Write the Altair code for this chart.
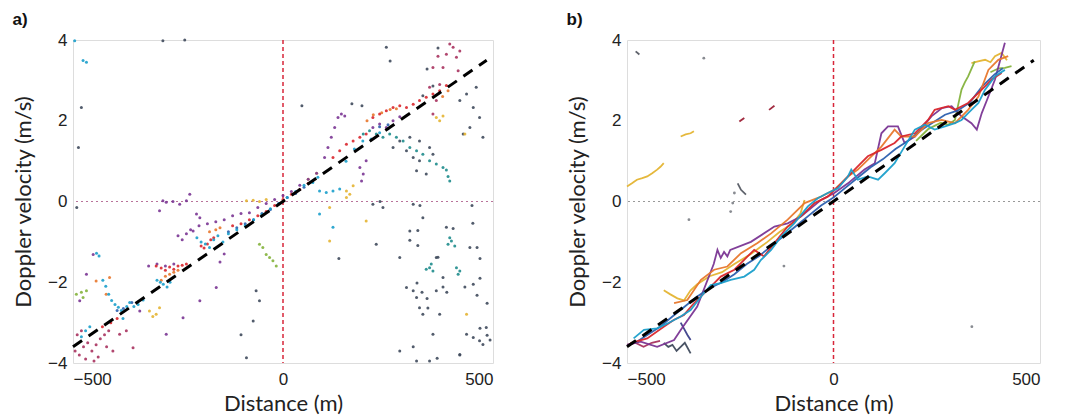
import altair as alt
import pandas as pd

# ---------------- Panel a: scattered Doppler points (distance m, velocity m/s) ----------------
A_DARK = [(-480, 2.33), (-487, 1.34), (-491, -0.15), (-286, 3.98), (-234, 4.0), (246, 3.82), (255, 3.48),
          (164, 2.42), (188, 2.37), (45, 2.37), (369, 3.8), (343, 3.28), (357, 2.86), (333, 2.62),
          (437, 2.66), (453, 2.33), (468, 2.08), (445, 1.83), (476, 1.59), (429, 1.67), (460, 2.83), (421, 2.5),
          (278, 1.5), (294, 1.26), (310, 1.09), (325, 1.01), (262, 1.34), (318, 0.76), (341, 0.68), (357, 1.17),
          (302, 1.59), (349, 1.34), (325, 1.5),
          (389, -0.64), (445, -1.14), (302, -0.73), (333, -0.4), (365, -1.39), (381, -1.88), (294, -2.13),
          (310, -2.21), (318, -2.38), (325, -2.63), (333, -2.79), (365, -2.21), (373, -2.79), (357, -3.29),
          (349, -3.95), (437, -3.29), (453, -3.37), (468, -3.45), (484, -3.12), (476, -3.54), (421, -3.79),
          (278, -1.39), (222, -1.06), (238, -0.15), (310, -0.07), (214, -0.07), (453, -2.05), (278, -3.7),
          (318, -3.95), (321, -0.72), (302, -0.96), (321, -1.09), (405, -0.67), (452, -0.54), (462, -1.14),
          (469, -1.41), (369, -1.38), (319, -2.02), (331, -2.25), (343, -2.4), (345, -2.64), (390, -2.25),
          (381, -2.12), (433, -2.12), (462, -2.32), (469, -1.9), (486, -2.52), (469, -3.14), (486, -3.31),
          (493, -3.43), (367, -3.88), (310, -3.6), (421, -3.8), (450, -0.1), (326, -0.1), (231, 0.0),
          (133, -1.41), (-64, -2.21), (-71, -2.96), (-87, -3.87), (-56, -2.46), (-100, -3.3)]
A_TEAL = [(401, -0.98), (393, -1.06), (409, -1.1), (397, -0.9), (349, -1.64), (357, -1.72), (341, -1.68),
          (353, -1.55), (421, -1.72), (413, -1.64), (417, -1.8), (191, 1.67), (206, 1.75), (222, 1.67),
          (238, 1.59), (254, 1.67), (270, 1.59), (286, 1.5), (302, 1.34), (318, 1.26), (333, 1.17),
          (349, 1.01), (365, 0.93), (381, 0.84), (389, 0.78), (397, 0.51), (393, 0.62)]
A_CYAN = [(-496, 3.98), (-476, 3.49), (-468, 3.45), (-444, -1.28), (-438, -1.35), (-429, -1.95), (-422, -2.1),
          (-415, -2.3), (-408, -2.45), (-400, -2.55), (-392, -2.62), (-385, -2.7), (-381, -2.9), (-372, -2.6),
          (-365, -2.5), (-355, -2.6), (-345, -2.55), (-333, -2.44), (-300, -1.95), (-292, -2.0), (-285, -2.05),
          (-276, -2.12), (-269, -2.0), (-480, -3.35), (-470, -3.2), (-460, -3.1), (-205, -0.9), (-195, -1.0),
          (-185, -1.05), (-175, -1.14), (-165, -0.95), (-155, -0.85), (-143, -1.0), (-130, -0.8), (-110, -0.7),
          (-90, -0.6), (-70, -0.45), (-50, -0.32), (-30, -0.18), (-10, -0.05), (10, 0.1), (30, 0.25),
          (50, 0.4), (71, 0.47), (83, 0.6), (87, 0.26), (103, 0.22), (119, 0.26), (135, 0.31), (150, 1.0),
          (170, 1.3), (190, 1.5), (210, 1.55), (230, 1.7), (250, 1.8), (119, -0.64), (87, -0.31)]
A_PURPLE = [(-294, -0.23), (-286, 0.02), (-278, -0.02), (-262, 0.0), (-246, -0.07), (-230, 0.02), (-222, 0.18),
            (-206, -0.31), (-214, -0.73), (-198, -0.4), (-250, -0.85), (-240, -0.95), (-230, -0.8),
            (-220, -0.7), (-200, -0.6), (-180, -0.55), (-160, -0.5), (-140, -0.45), (-120, -0.35),
            (-100, -0.3), (-80, -0.28), (-60, -0.15), (-40, -0.05), (-20, 0.05), (0, 0.15), (20, 0.25),
            (40, 0.4), (60, 0.55), (80, 0.7), (99, 1.09), (107, 1.34), (115, 1.59), (123, 1.83), (131, 2.08),
            (139, 2.17), (147, 2.12), (183, 0.84), (191, 0.68), (187, 0.51), (198, 1.01), (214, 1.83),
            (230, 1.92), (246, 1.83), (262, 2.0), (278, 2.1), (-468, -1.8), (-452, -1.31), (-484, -2.46),
            (-341, -2.71), (-278, -3.29), (-238, -2.88), (-198, -2.46), (-159, -2.13), (-150, -1.5),
            (-140, -1.3), (-320, -1.6), (-300, -1.55), (-280, -1.6), (-260, -1.55)]
A_MAGENTA = [(357, 2.17), (365, 2.5), (373, 2.9), (381, 3.32), (389, 3.65), (397, 3.9), (405, 3.82),
             (413, 3.57), (417, 3.24), (421, 3.73), (349, 2.83), (357, 3.32), (369, 3.6),
             (-495, -3.7), (-485, -3.8), (-475, -3.6), (-465, -3.5), (-455, -3.7), (-445, -3.55),
             (-435, -3.4), (-425, -3.3), (-415, -3.2), (-470, -3.9), (-450, -3.95), (-490, -3.3),
             (-480, -3.2), (-389, -3.29), (-373, -3.2), (-357, -3.62), (-405, -3.7), (-440, -3.85), (-420, -3.6)]
A_RED = [(-302, -1.6), (-290, -1.65), (-280, -1.7), (-270, -1.62), (-260, -1.68), (-250, -1.6), (-240, -1.58),
         (-230, -1.55), (-195, -1.1), (-188, -1.15), (-180, -1.05), (-172, -0.95), (-165, -0.9),
         (-120, -0.6), (-100, -0.55), (-80, -0.45), (-60, -0.35), (-40, -0.25), (-20, -0.1), (0, 0.05),
         (20, 0.18), (40, 0.3), (60, 0.45), (119, 1.09), (135, 1.26), (151, 1.42), (167, 1.5), (183, 1.59),
         (198, 1.67), (214, 2.08), (230, 2.17), (246, 2.25), (262, 2.33), (278, 2.37), (294, 2.33),
         (310, 2.41), (325, 2.5), (341, 2.58), (357, 2.66), (373, 2.74), (389, 2.87),
         (-430, -3.1), (-410, -3.0), (-395, -2.9)]
A_ORANGE = [(-290, -1.95), (-280, -1.85), (-270, -1.8), (-260, -1.75), (-250, -1.7), (-445, -1.97),
            (-421, -2.3), (-413, -1.88), (-175, -0.75), (-160, -0.7), (-150, -0.65), (200, 2.0), (215, 2.15),
            (235, 2.2), (255, 2.28), (270, 2.3), (393, 2.74), (380, 2.6)]
A_YELLOW = [(-87, 0.02), (-71, 0.03), (-56, 0.0), (-40, 0.05), (-318, -2.71), (-302, -2.79), (-294, -2.63),
            (-310, -2.85), (151, 0.26), (159, 0.18), (167, 0.39), (111, -0.98), (365, 2.08), (373, 2.0),
            (381, 2.12), (433, 1.67), (437, -2.79), (151, 0.1), (111, -0.15), (198, -0.48), (60, 0.55), (80, 0.7)]
A_GREEN = [(-492, -2.3), (-476, -2.38), (-468, -2.21), (-48, -1.14), (-40, -1.31), (-32, -1.39), (-24, -1.47),
           (-16, -1.6), (-56, -1.06), (-480, -2.25)]
A_BLUE = [(-130, -0.75), (-110, -0.65), (-90, -0.55), (-70, -0.45), (-50, -0.3), (-30, -0.2), (-10, -0.05),
          (10, 0.1), (30, 0.2), (50, 0.35), (70, 0.5), (230, 1.85), (250, 1.9), (-395, -2.7), (-380, -2.65),
          (-360, -2.5)]

# ---------------- Panel b: tracks (drawn as dense dotted traces) ----------------
B_CYAN = [(-484, -3.39), (-459, -3.18), (-427, -3.14), (-402, -3.02), (-370, -2.85), (-346, -2.69),
          (-321, -2.36), (-297, -2.07), (-273, -2.02), (-249, -1.94), (-216, -1.86), (-192, -1.69),
          (-176, -1.45), (-151, -1.2), (-127, -0.87), (-95, -0.54), (-62, -0.12), (-38, 0.08), (-14, 0.21),
          (11, 0.33), (35, 0.62), (43, 0.79), (59, 0.54), (83, 0.62), (108, 0.54), (124, 0.7), (148, 0.95),
          (172, 1.36), (197, 1.78), (221, 1.9), (245, 1.78), (270, 1.86), (294, 1.94), (310, 2.02),
          (326, 2.19), (351, 2.44), (367, 2.77), (391, 3.1), (415, 3.26)]
B_RED = [(-492, -3.51), (-451, -3.39), (-411, -3.1), (-386, -2.93), (-362, -2.81), (-338, -2.52), (-305, -2.19),
         (-273, -1.86), (-240, -1.69), (-208, -1.36), (-192, -1.2), (-168, -1.36), (-143, -1.03), (-111, -0.62),
         (-79, -0.37), (-46, -0.04), (-14, 0.12), (19, 0.45), (51, 0.79), (83, 1.12), (116, 1.28), (148, 1.45),
         (164, 1.61), (197, 1.69), (229, 2.02), (245, 2.27), (278, 2.36), (294, 2.27), (326, 2.44),
         (359, 2.77), (383, 3.02), (407, 3.18)]
B_PURPLE = [(-500, -3.55), (-467, -3.47), (-427, -3.6), (-386, -3.43), (-370, -3.18), (-330, -2.6),
            (-290, -1.55), (-281, -1.2), (-273, -1.4), (-265, -1.25), (-257, -1.36), (-250, -1.2),
            (-200, -1.0), (-143, -0.62), (-111, -0.54), (-79, -0.37), (-30, 0.04), (2, 0.21), (35, 0.45),
            (75, 0.79), (100, 0.95), (116, 1.69), (132, 1.86), (156, 1.86), (172, 1.45), (197, 1.61),
            (237, 2.11), (262, 2.31), (286, 2.36), (310, 2.11), (334, 1.94), (347, 1.78), (359, 2.19),
            (375, 2.6), (391, 3.02), (415, 3.93)]
B_ORANGE = [(-386, -2.52), (-354, -2.44), (-321, -1.94), (-289, -1.69), (-257, -1.61), (-224, -1.28),
            (-184, -1.03), (-151, -0.79), (-111, -0.45), (-70, -0.04), (-30, 0.12), (2, 0.29), (35, 0.62),
            (59, 0.79), (83, 1.03), (116, 1.36), (148, 1.78), (164, 1.61), (197, 1.61), (229, 1.94),
            (262, 2.02), (294, 1.94), (326, 2.27), (351, 2.6), (375, 3.26), (399, 3.51), (423, 3.6)]
B_YELLOW = [(-411, -2.2), (-395, -2.3), (-378, -2.4), (-362, -2.45), (-346, -2.2), (-330, -2.05), (-300, -1.85),
            (-270, -1.75), (-240, -1.55), (-200, -1.3), (-160, -1.0), (-130, -0.75), (-100, -0.55), (-80, -0.3),
            (-70, 0.04)]
B_YELLOW_TOP = [(334, 3.43), (350, 3.47), (367, 3.51), (380, 3.45), (391, 3.6), (407, 3.68), (420, 3.5)]
B_YELLOW_ISO1 = [(-500, 0.37), (-488, 0.45), (-476, 0.54), (-463, 0.58), (-451, 0.62), (-439, 0.7),
                 (-427, 0.79), (-419, 0.86), (-411, 0.95)]
B_YELLOW_ISO2 = [(-370, 1.61), (-358, 1.66), (-346, 1.69), (-338, 1.74)]
B_GREEN = [(200, 1.5), (230, 1.8), (260, 1.95), (278, 1.9), (294, 2.02), (302, 2.4), (310, 2.77), (318, 2.95),
           (326, 3.1), (342, 3.47)]
B_GREEN_TOP = [(380, 3.2), (400, 3.3), (415, 3.31), (431, 3.35)]
B_BLUE = [(-480, -3.5), (-450, -3.3), (-420, -3.1), (-390, -2.85), (-360, -2.6), (-330, -2.35), (-300, -2.15),
          (-270, -2.0), (-240, -1.8), (-210, -1.55), (-180, -1.35), (-150, -1.1), (-120, -0.85), (-90, -0.6),
          (-60, -0.35), (-30, -0.1), (0, 0.1), (30, 0.35), (60, 0.6), (90, 0.85), (120, 1.05), (150, 1.3),
          (180, 1.5), (210, 1.75), (240, 1.95), (270, 2.15), (300, 2.25), (330, 2.45), (360, 2.85),
          (390, 3.15), (410, 3.3)]
B_MAGENTA = [(-500, -3.55), (-480, -3.5), (-460, -3.6), (-440, -3.5), (-420, -3.45)]
B_DARK = [(-411, -3.5), (-400, -3.6), (-390, -3.55), (-380, -3.7), (-370, -3.6), (-360, -3.5), (-346, -3.76)]
B_NAVY = [(-370, -3.0), (-362, -3.15), (-354, -3.3), (-346, -3.43)]
B_DARKRED1 = [(-228, 1.98), (-216, 2.07)]
B_DARKRED2 = [(-156, 2.27), (-143, 2.37)]
B_GRAY1 = [(-479, 3.72), (-470, 3.64)]
B_GRAY2 = [(-232, 0.45), (-224, 0.29), (-212, 0.17)]
B_DOTS = [(-314, 3.55), (-240, 0.21), (-244, -0.04), (-249, -0.25), (-350, -0.45), (335, -3.1), (-120, -1.6)]

# Reference lines
FIT_X = [-500, 485]
FIT_Y = [-3.6, 3.5]
ZERO = [0]

COLORS = {
    "cyan": "#1a9fcb", "teal": "#1e8c8c", "blue": "#2b5fae", "red": "#d9262c", "orange": "#e8772c",
    "yellow": "#e4b432", "purple": "#7a3594", "green": "#84b23c", "magenta": "#a8335f",
    "dark": "#3f4a5c", "navy": "#3b3f8a", "darkred": "#9c1f35", "gray": "#555a63",
}

def pts(series_list):
    rows = []
    for name, color, data in series_list:
        for x, y in data:
            rows.append({"seg": name, "c": color, "x": x, "y": y})
    return pd.DataFrame(rows)

a_df = pts([("dark", "dark", A_DARK), ("teal", "teal", A_TEAL), ("yellow", "yellow", A_YELLOW),
            ("green", "green", A_GREEN), ("magenta", "magenta", A_MAGENTA), ("purple", "purple", A_PURPLE),
            ("orange", "orange", A_ORANGE), ("blue", "blue", A_BLUE), ("red", "red", A_RED),
            ("cyan", "cyan", A_CYAN)])

b_lines = pts([("y1", "yellow", B_YELLOW_ISO1), ("y2", "yellow", B_YELLOW_ISO2), ("dr1", "darkred", B_DARKRED1),
               ("dr2", "darkred", B_DARKRED2), ("g1", "gray", B_GRAY1), ("g2", "gray", B_GRAY2),
               ("mag", "magenta", B_MAGENTA), ("dark", "dark", B_DARK), ("navy", "navy", B_NAVY),
               ("yel", "yellow", B_YELLOW), ("yelt", "yellow", B_YELLOW_TOP), ("grn", "green", B_GREEN),
               ("grnt", "green", B_GREEN_TOP), ("pur", "purple", B_PURPLE), ("blu", "blue", B_BLUE),
               ("ora", "orange", B_ORANGE), ("red", "red", B_RED), ("cya", "cyan", B_CYAN)])
b_dots = pts([("dots", "gray", B_DOTS)])

fit_df = pd.DataFrame({"x": FIT_X, "y": FIT_Y})
zero_df = pd.DataFrame({"v": ZERO})

color_scale = alt.Scale(domain=list(COLORS.keys()), range=list(COLORS.values()))
xs = alt.Scale(domain=[-500, 500], nice=False)
ys = alt.Scale(domain=[-4, 4], nice=False)

X_AX = alt.Axis(values=[-500, 0, 500], title="Distance (m)", grid=False, ticks=False, domain=False,
                labelFont="Liberation Sans", labelFontSize=17, labelColor="#222", labelPadding=8,
                titleFont="Lato", titleFontSize=22, titleFontWeight="normal", titleColor="#222", titlePadding=6)
Y_AX = alt.Axis(values=[-4, -2, 0, 2, 4], title="Doppler velocity (m/s)", grid=False, ticks=False, domain=False,
                labelFont="Liberation Sans", labelFontSize=17, labelColor="#222", labelPadding=6,
                titleFont="Lato", titleFontSize=22, titleFontWeight="normal", titleColor="#222", titlePadding=12)


def panel(label, data_layers, hcolor, w, h):
    hline = alt.Chart(zero_df).mark_rule(color=hcolor, strokeDash=[2, 3], strokeWidth=1.2).encode(
        y=alt.Y("v:Q", scale=ys, axis=Y_AX))
    vline = alt.Chart(zero_df).mark_rule(color="#d8263a", strokeDash=[4, 3], strokeWidth=1.5).encode(
        x=alt.X("v:Q", scale=xs, axis=X_AX))
    fit = alt.Chart(fit_df).mark_line(color="black", strokeDash=[11, 8], strokeWidth=3).encode(
        x=alt.X("x:Q", scale=xs, axis=X_AX), y=alt.Y("y:Q", scale=ys, axis=Y_AX))
    return alt.layer(hline, vline, *data_layers, fit).properties(
        width=w, height=h,
        title=alt.TitleParams(label, anchor="start", frame="bounds", fontSize=17, fontWeight="bold",
                              font="Liberation Sans", color="#111", offset=2))


a_points = alt.Chart(a_df).mark_circle(size=9, opacity=0.9).encode(
    x=alt.X("x:Q", scale=xs, axis=X_AX), y=alt.Y("y:Q", scale=ys, axis=Y_AX),
    color=alt.Color("c:N", scale=color_scale, legend=None))

b_line = alt.Chart(b_lines).mark_line(strokeWidth=1.8, opacity=0.95).encode(
    x=alt.X("x:Q", scale=xs, axis=X_AX), y=alt.Y("y:Q", scale=ys, axis=Y_AX),
    color=alt.Color("c:N", scale=color_scale, legend=None), detail="seg:N")
b_pt = alt.Chart(b_dots).mark_circle(size=8).encode(
    x=alt.X("x:Q", scale=xs, axis=X_AX), y=alt.Y("y:Q", scale=ys, axis=Y_AX),
    color=alt.Color("c:N", scale=color_scale, legend=None))

pa = panel("a)", [a_points], "#b9739a", 420, 323)
pb = panel("b)", [b_line, b_pt], "#999999", 413, 323)

chart = alt.hconcat(pa, pb, spacing=71).properties(
    padding={"left": 12, "top": 10, "right": 5, "bottom": 1}
).configure_view(stroke="#777777", strokeWidth=1.3).configure(background="white")

chart.save("out.html", embed_options={"renderer": "svg", "actions": False})
